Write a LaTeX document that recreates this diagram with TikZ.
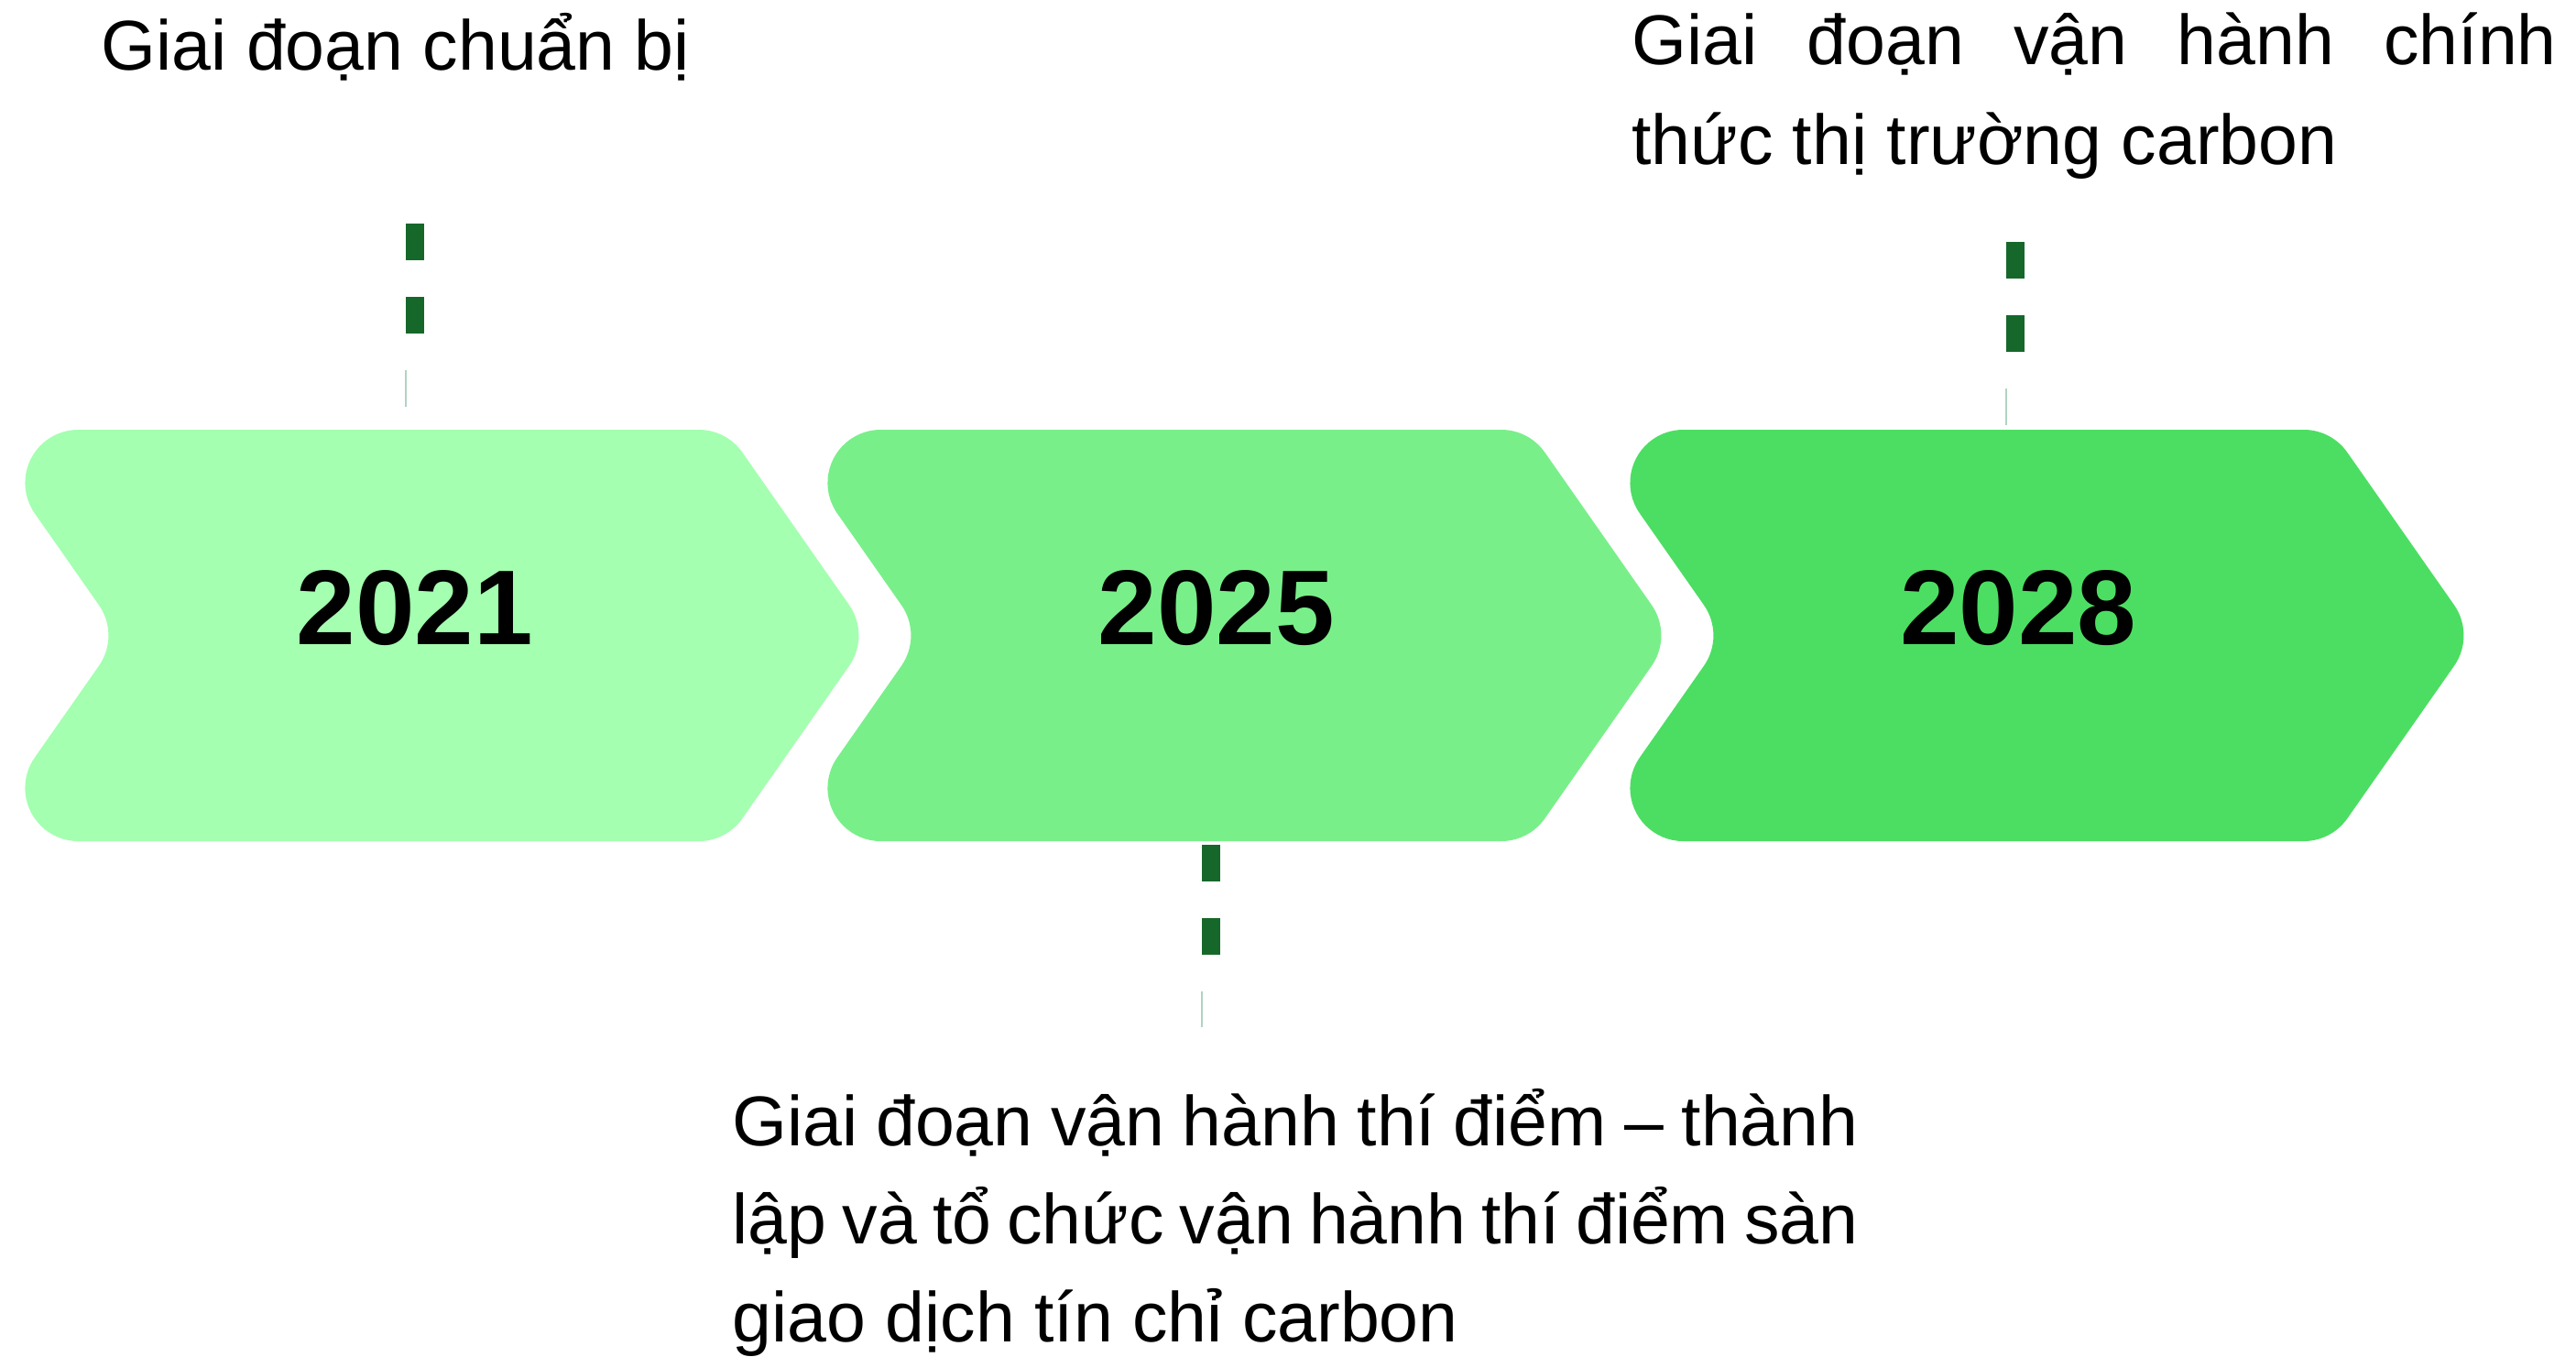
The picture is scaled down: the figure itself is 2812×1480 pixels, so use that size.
\documentclass[tikz,border=0pt]{standalone}
\usepackage{fontspec}
\setmainfont{Liberation Sans}
\definecolor{chevA}{RGB}{164,255,176}
\definecolor{chevB}{RGB}{121,239,138}
\definecolor{chevC}{RGB}{76,222,98}
\definecolor{dashgreen}{RGB}{22,104,42}
\definecolor{thingrey}{RGB}{176,212,194}
\newcommand{\chevronshape}{(85.42,469) -- (762.81,469) arc[start angle=-90,end angle=-35,radius=58]
  -- (926.91,660.23) arc[start angle=-35,end angle=35,radius=58]
  -- (810.32,893.27) arc[start angle=35,end angle=90,radius=58]
  -- (85.42,918) arc[start angle=90,end angle=215,radius=58]
  -- (107.91,726.77) arc[start angle=35,end angle=-35,radius=58]
  -- (37.91,560.27) arc[start angle=145,end angle=270,radius=58] -- cycle}
\begin{document}
\begin{tikzpicture}[x=0.25pt,y=-0.25pt,
  yearlbl/.style={inner sep=0pt,font=\fontsize{29}{34}\selectfont\bfseries,text=black},
  desclbl/.style={inner sep=0pt,font=\fontsize{19.25}{23}\selectfont,text=black,anchor=base west},
  thickdash/.style={draw=dashgreen,line width=5pt,dash pattern=on 10pt off 10pt},
  thinlink/.style={draw=thingrey,line width=0.4pt}]
\useasboundingbox[fill=white] (0,0) rectangle (2812,1480);
% chevrons
\fill[chevA] \chevronshape;
\begin{scope}[shift={(876,0)}]
\fill[chevB] \chevronshape;
\end{scope}
\begin{scope}[shift={(1752,0)}]
\fill[chevC] \chevronshape;
\end{scope}
% years
\node[yearlbl,anchor=base] (y1) at (453,703.3) {2021};
\node[yearlbl,anchor=base] (y2) at (1328,703.3) {2025};
\node[yearlbl,anchor=base] (y3) at (2203,703.3) {2028};
% labels
\node[desclbl] (l1) at (110,76.7) {Giai đoạn chuẩn bị};
\node[desclbl] (l3a) at (1780.5,70.7) {\makebox[252.4pt][s]{Giai đoạn vận hành chính}};
\node[desclbl] (l3b) at (1780.5,179.7) {thức thị trường carbon};
\node[desclbl] (l2a) at (799,1250) {\makebox[307.2pt][s]{Giai đoạn vận hành thí điểm – thành}};
\node[desclbl] (l2b) at (799,1357) {\makebox[307.2pt][s]{lập và tổ chức vận hành thí điểm sàn}};
\node[desclbl] (l2c) at (799,1464) {giao dịch tín chỉ carbon};
% connector end points
\coordinate (k1a) at (453,244.3);
\coordinate (k1b) at (453,364.3);
\coordinate (k1c) at (443,404);
\coordinate (k1d) at (443,444);
\coordinate (k2a) at (1322,921.7);
\coordinate (k2b) at (1322,1041.7);
\coordinate (k2c) at (1312,1081.7);
\coordinate (k2d) at (1312,1120.7);
\coordinate (k3a) at (2200.3,264.3);
\coordinate (k3b) at (2200.3,384.3);
\coordinate (k3c) at (2190,424);
\coordinate (k3d) at (2190,464);
% connectors
\draw[thickdash] (k1a) -- (k1b);
\draw[thinlink] (k1c) -- (k1d);
\draw[thickdash] (k2a) -- (k2b);
\draw[thinlink] (k2c) -- (k2d);
\draw[thickdash] (k3a) -- (k3b);
\draw[thinlink] (k3c) -- (k3d);
\end{tikzpicture}
\end{document}
